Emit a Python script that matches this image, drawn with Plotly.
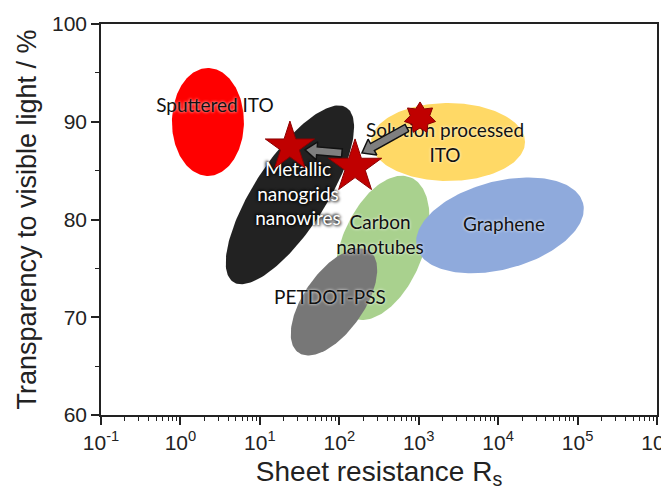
import numpy as np
import plotly.graph_objects as go

# ---------------- data ----------------
materials = ["Sputtered ITO", "Solution processed ITO", "Carbon nanotubes",
             "Graphene", "Metallic nanogrids / nanowires", "PETDOT-PSS"]
region_rs = [2.22, 2340, 345, 10540, 23.9, 85.7]        # centre sheet resistance
region_t = [89.98, 87.93, 77.1, 79.4, 82.52, 71.57]     # centre transparency %

label_text = ["Sputtered ITO", "Solution processed<br>ITO", "Carbon<br>nanotubes",
              "Graphene", "Metallic<br>nanogrids<br>nanowires", "PETDOT-PSS"]
label_rs = [2.72, 2143, 326, 11860, 30.2, 76.4]
label_t = [91.5, 87.63, 78.22, 79.35, 82.41, 71.88]

star_rs = [23.9, 158]
star_t = [87.42, 85.38]
star7_rs = [1038]
star7_t = [90.39]

arrow_from_rs = [711, 108]
arrow_from_t = [89.37, 86.81]
arrow_to_rs = [193, 37]
arrow_to_t = [86.81, 87.12]

x_tickvals = [0.1, 1, 10, 100, 1e3, 1e4, 1e5, 1e6]
x_ticktext = ["10<sup>-1</sup>", "10<sup>0</sup>", "10<sup>1</sup>", "10<sup>2</sup>",
              "10<sup>3</sup>", "10<sup>4</sup>", "10<sup>5</sup>", "10<sup>6</sup>"]
y_tickvals = [60, 70, 80, 90, 100]

# ---------------- layout / style ----------------
W, H = 661, 487          # page body adds an 8px offset
ML, MR, MT, MB = 93, 12, 16, 80
XR = (-1, 6)
YR = (60, 100)
KX = (W - ML - MR) / (XR[1] - XR[0])   # px per decade
KY = (H - MT - MB) / (YR[1] - YR[0])   # px per %

# ellipse geometry in screen px: semi-major, semi-minor, rotation (deg, ccw)
ell_geom = [(54, 36, 90), (77, 39, 0), (76, 41, 68), (86, 44, 15), (104, 36, 57), (62, 30, 55)]
ell_color = ["#FF0000", "#FFD966", "#A9D18E", "#8FAADC", "#222222", "#777777"]
draw_order = [0, 1, 2, 3, 4, 5]
label_color = ["#111111", "#111111", "#111111", "#111111", "#FFFFFF", "#111111"]
STAR_RED = "#C00000"
AX = "#222222"


def to_px(rs, t):
    return np.log10(rs) * KX, t * KY


def from_px(u, v):
    return 10 ** (np.asarray(u) / KX), np.asarray(v) / KY


def ellipse(rs, t, a, b, ang):
    u0, v0 = to_px(rs, t)
    th = np.linspace(0, 2 * np.pi, 181)
    c, s = np.cos(np.radians(ang)), np.sin(np.radians(ang))
    du = a * np.cos(th) * c - b * np.sin(th) * s
    dv = a * np.cos(th) * s + b * np.sin(th) * c
    return from_px(u0 + du, v0 + dv)


def arrow(rs0, t0, rs1, t1, w=4, hw=9, hl=12):
    p0 = np.array(to_px(rs0, t0))
    p1 = np.array(to_px(rs1, t1))
    d = p1 - p0
    d = d / np.hypot(*d)
    n = np.array([-d[1], d[0]])
    neck = p1 - d * hl
    pts = [p0 + n * w, neck + n * w, neck + n * hw, p1, neck - n * hw, neck - n * w, p0 - n * w, p0 + n * w]
    pts = np.array(pts)
    return from_px(pts[:, 0], pts[:, 1])


def star_poly(rs, t, npts, R, r):
    u0, v0 = to_px(rs, t)
    ang = np.pi / 2 + np.arange(2 * npts + 1) * np.pi / npts
    rad = np.where(np.arange(2 * npts + 1) % 2 == 0, R, r)
    return from_px(u0 + rad * np.cos(ang), v0 + rad * np.sin(ang))


fig = go.Figure()

for i in draw_order:
    a, b, ang = ell_geom[i]
    ex, ey = ellipse(region_rs[i], region_t[i], a, b, ang)
    fig.add_trace(go.Scatter(x=ex, y=ey, mode="lines", fill="toself",
                             fillcolor=ell_color[i], line=dict(width=0, color=ell_color[i]),
                             hoverinfo="text", text=materials[i], showlegend=False))

# labels
for i in range(len(label_text)):
    shadow = "1px 1px 3px #000, -1px -1px 3px #000" if label_color[i] == "#FFFFFF" else "0px 0px 3px #ffffff"
    fig.add_trace(go.Scatter(x=[label_rs[i]], y=[label_t[i]], mode="text", text=[label_text[i]],
                             textposition="middle center",
                             textfont=dict(family="Lato, Open Sans, sans-serif", size=19,
                                           color=label_color[i], shadow=shadow),
                             showlegend=False, hoverinfo="skip"))

# five-point stars
fig.add_trace(go.Scatter(x=star_rs, y=star_t, mode="markers",
                         marker=dict(symbol="star", size=[37, 40], color=STAR_RED, opacity=1,
                                     line=dict(width=1, color="#8B0000")),
                         showlegend=False, hoverinfo="skip"))

# arrows
for k in range(len(arrow_from_rs)):
    axs, ays = arrow(arrow_from_rs[k], arrow_from_t[k], arrow_to_rs[k], arrow_to_t[k])
    fig.add_trace(go.Scatter(x=axs, y=ays, mode="lines", fill="toself", fillcolor="#7F7F7F",
                             line=dict(width=1.5, color="#111111"), showlegend=False, hoverinfo="skip"))

# seven-point star
for k in range(len(star7_rs)):
    sx, sy = star_poly(star7_rs[k], star7_t[k], 7, 16, 10)
    fig.add_trace(go.Scatter(x=sx, y=sy, mode="lines", fill="toself", fillcolor=STAR_RED,
                             line=dict(width=1, color="#8B0000"), showlegend=False, hoverinfo="skip"))

axis_font = "Liberation Sans, Arial, sans-serif"
fig.update_layout(
    width=W, height=H,
    margin=dict(l=ML, r=MR, t=MT, b=MB),
    paper_bgcolor="white", plot_bgcolor="white",
    xaxis=dict(type="log", range=list(XR), tickmode="array", tickvals=x_tickvals, ticktext=x_ticktext,
               ticks="outside", ticklen=8, tickwidth=1.5, tickcolor=AX,
               showline=True, linewidth=1.5, linecolor=AX, mirror=True,
               showgrid=False, zeroline=False, automargin=False, ticklabeloverflow="allow",
               tickfont=dict(family=axis_font, size=21, color=AX),
               title=dict(text="Sheet resistance R<sub>s</sub>", standoff=8,
                          font=dict(family=axis_font, size=28, color=AX)),
               minor=dict(ticks="outside", ticklen=4, tickwidth=1.2, tickcolor=AX,
                          dtick="D1", showgrid=False)),
    yaxis=dict(range=list(YR), tickmode="array", tickvals=y_tickvals,
               ticks="outside", ticklen=8, tickwidth=1.5, tickcolor=AX,
               showline=True, linewidth=1.5, linecolor=AX, mirror=True,
               showgrid=False, zeroline=False, automargin=False,
               tickfont=dict(family=axis_font, size=21, color=AX),
               title=dict(text="Transparency to visible light / %", standoff=8,
                          font=dict(family=axis_font, size=27, color=AX)),
               minor=dict(ticks="outside", ticklen=4, tickwidth=1.2, tickcolor=AX,
                          dtick=5, showgrid=False)),
)

fig.write_html("out.html")
